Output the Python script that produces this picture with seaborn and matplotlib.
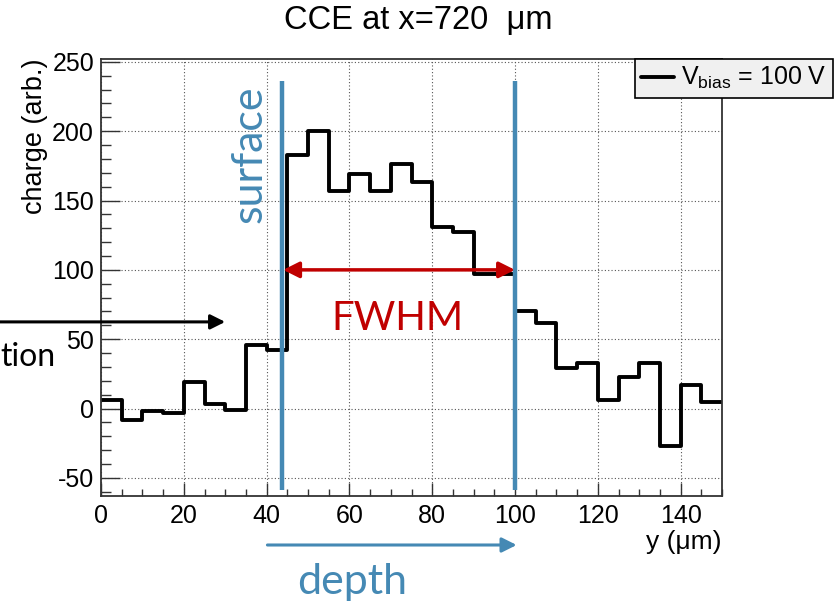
import matplotlib
matplotlib.use("Agg")
import matplotlib.pyplot as plt
import numpy as np
import pandas as pd
import seaborn as sns

# Histogram data (bin edges in um, charge per bin)
bin_edges = [0, 5, 10, 15, 20, 25, 30, 35, 40, 45, 50, 55, 60, 65, 70, 75,
             80, 85, 90, 95, 100, 105, 110, 115, 120, 125, 130, 135, 140, 145, 150]
charge = [6, -8, -2, -3, 19, 3, -1, 46, 42, 183, 200, 157, 169, 157, 176, 163,
          131, 127, 97, 97, 70, 62, 29, 33, 6, 23, 33, -27, 17, 5]

# Annotation positions
surface_pos = 43.7
fwhm_end = 100
half_max = 100
marker_top = 236
marker_bottom = -59

blue = "#4589b4"
red = "#c00000"

sns.set_style("white")
plt.rcParams["font.family"] = ["Liberation Sans", "DejaVu Sans"]
plt.rcParams["mathtext.fontset"] = "custom"
plt.rcParams["mathtext.rm"] = "Liberation Sans"
plt.rcParams["mathtext.it"] = "Liberation Sans"
plt.rcParams["axes.unicode_minus"] = False
plt.rcParams["text.color"] = "black"
plt.rcParams["axes.labelcolor"] = "black"

fig = plt.figure(figsize=(8.36, 6.06), dpi=100)
ax = fig.add_axes([101 / 836, 1 - 496 / 606, 621 / 836, 437 / 606])

df = pd.DataFrame({"y": bin_edges, "charge": charge + [charge[-1]]})
sns.lineplot(data=df, x="y", y="charge", drawstyle="steps-post", estimator=None,
             color="black", lw=2.8, label=r"V$_{\mathrm{bias}}$ = 100 V", ax=ax)

ax.set_xlim(0, 150)
ax.set_ylim(-63, 252)
ax.set_xticks(range(0, 141, 20))
ax.set_xticks(range(0, 151, 5), minor=True)
ax.set_yticks(range(-50, 251, 50))
ax.set_yticks(range(-60, 251, 10), minor=True)
ax.grid(True, which="major", linestyle=(0, (1, 2)), color="#555555", lw=0.8)

ax.tick_params(axis="both", which="both", direction="in", labelsize=18,
               left=True, bottom=True, top=False, right=False,
               color="#333333", labelcolor="black")
ax.tick_params(axis="x", which="major", length=9.1, width=1.0, pad=6)
ax.tick_params(axis="x", which="minor", length=5.0, width=1.0)
ax.tick_params(axis="y", which="major", length=13.7, width=1.0, pad=5)
ax.tick_params(axis="y", which="minor", length=7.2, width=1.0)
for sp in ax.spines.values():
    sp.set_color("#333333")
    sp.set_linewidth(1.3)

ax.set_xlabel("y (\u03bcm)", fontsize=19, loc="right", labelpad=1)
ax.set_ylabel("charge (arb.)", fontsize=19.5, loc="top", labelpad=3)

fig.text(418 / 836, 1 - 5 / 606, "CCE at x=720  \u03bcm", fontsize=23.5,
         ha="center", va="top")

leg = ax.legend(loc="upper right", bbox_to_anchor=(833 / 836, 1 - 59 / 606),
                bbox_transform=fig.transFigure, fontsize=18, frameon=True,
                fancybox=False, handlelength=1.3, handletextpad=0.3,
                borderpad=0.25, borderaxespad=0)
leg.get_frame().set_facecolor("#f0f0f0")
leg.get_frame().set_edgecolor("black")
leg.get_frame().set_linewidth(1.2)
leg.get_frame().set_alpha(1)

# Surface and FWHM markers
for xpos in (surface_pos, fwhm_end):
    ax.plot([xpos, xpos], [marker_bottom, marker_top], color=blue, lw=3.2,
            solid_capstyle="butt", zorder=5)

ax.annotate("", xy=(surface_pos + 0.3, half_max), xytext=(fwhm_end, half_max),
            arrowprops=dict(arrowstyle="<|-|>", color=red, lw=2.5,
                            mutation_scale=24, shrinkA=0, shrinkB=0), zorder=6)

callout = dict(family=["Lato", "DejaVu Sans"])
ax.text(36, 183, "surface", rotation=90, color=blue, fontsize=31,
        ha="center", va="center", **callout)
ax.text(71.7, 65, "FWHM", color=red, fontsize=29, ha="center", va="center",
        **callout)

# Black arrow coming from the left edge
ax.annotate("", xy=(30, 62.5), xycoords="data",
            xytext=(0, 62.5), textcoords=("figure fraction", "data"),
            arrowprops=dict(arrowstyle="-|>", color="black", lw=2.2,
                            mutation_scale=22, shrinkA=0, shrinkB=0),
            annotation_clip=False)
fig.text(0.0, 1 - 366 / 606, "tion", fontsize=23, ha="left", va="baseline",
         color="black", **callout)

# Depth arrow below the axis
ax.annotate("", xy=(100.4, 1 - 545 / 606), xycoords=("data", "figure fraction"),
            xytext=(40.2, 1 - 545 / 606), textcoords=("data", "figure fraction"),
            arrowprops=dict(arrowstyle="-|>", color=blue, lw=2.2,
                            mutation_scale=22, shrinkA=0, shrinkB=0),
            annotation_clip=False)
fig.text(352 / 836, 1 - 582 / 606, "depth", color=blue, fontsize=31,
         ha="center", va="center", **callout)

fig.savefig("out.png", dpi=100)
